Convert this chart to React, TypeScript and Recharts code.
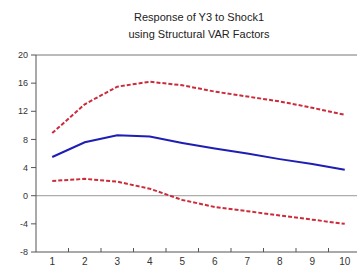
import React from 'react';
import { LineChart, Line, XAxis, YAxis, ReferenceLine } from 'recharts';

const periods = [1, 2, 3, 4, 5, 6, 7, 8, 9, 10];
const response = [5.5, 7.6, 8.6, 8.4, 7.5, 6.7, 6.0, 5.2, 4.5, 3.7];
const upperBand = [8.9, 13.0, 15.5, 16.2, 15.7, 14.8, 14.1, 13.4, 12.5, 11.5];
const lowerBand = [2.1, 2.4, 2.0, 1.0, -0.6, -1.6, -2.2, -2.8, -3.4, -4.0];
const yTicks = [-8, -4, 0, 4, 8, 12, 16, 20];
const boundaryTicks = [1.5, 2.5, 3.5, 4.5, 5.5, 6.5, 7.5, 8.5, 9.5];
const titleLines = ['Response of Y3 to Shock1', 'using Structural VAR Factors'];

const data = periods.map((p, i) => ({
  period: p,
  response: response[i],
  upper: upperBand[i],
  lower: lowerBand[i],
}));

const xTicks = [...periods, ...boundaryTicks].sort((a, b) => a - b);

const XTick = (props: any) => {
  const { x, y, payload } = props;
  const v = payload.value;
  if (Number.isInteger(v)) {
    return (
      <text x={x} y={y + 13} textAnchor="middle" fontSize={10} fill="#333" fontFamily="Liberation Sans, Arial, sans-serif">
        {v}
      </text>
    );
  }
  return <line x1={x} x2={x} y1={y} y2={y - 4} stroke="#555" strokeWidth={1} />;
};

export default function App() {
  return (
    <div style={{ position: 'absolute', left: 0, top: 0, width: 357, height: 268, overflow: 'hidden', background: '#fff' }}>
      <div
        style={{
          position: 'absolute',
          left: 0,
          width: 398,
          top: 9,
          textAlign: 'center',
          fontFamily: 'Liberation Sans, Arial, sans-serif',
          fontSize: 11,
          lineHeight: '17px',
          color: '#222',
        }}
      >
        {titleLines.map((t) => (
          <div key={t}>{t}</div>
        ))}
      </div>
      <LineChart width={365} height={268} data={data} margin={{ top: 55, right: 4, bottom: 0, left: 0 }}>
        <XAxis
          dataKey="period"
          type="number"
          domain={[0.5, 10.5]}
          ticks={xTicks}
          interval={0}
          height={16}
          tickSize={0}
          tickMargin={0}
          tickLine={false}
          axisLine={{ stroke: '#555' }}
          tick={<XTick />}
        />
        <YAxis
          type="number"
          domain={[-8, 20]}
          ticks={yTicks}
          interval={0}
          width={36}
          tickSize={5}
          tickMargin={3}
          axisLine={{ stroke: '#555' }}
          tickLine={{ stroke: '#555' }}
          tick={{ fontSize: 9, fill: '#333', fontFamily: 'Liberation Sans, Arial, sans-serif' }}
        />
        <ReferenceLine y={20} stroke="#777" strokeWidth={1} />
        <ReferenceLine y={0} stroke="#999" strokeWidth={1} />
        <Line dataKey="upper" stroke="#cc2b3b" strokeWidth={2} strokeDasharray="4 2" dot={false} isAnimationActive={false} />
        <Line dataKey="lower" stroke="#cc2b3b" strokeWidth={2} strokeDasharray="4 2" dot={false} isAnimationActive={false} />
        <Line dataKey="response" stroke="#1e1eb4" strokeWidth={2} dot={false} isAnimationActive={false} />
      </LineChart>
    </div>
  );
}
